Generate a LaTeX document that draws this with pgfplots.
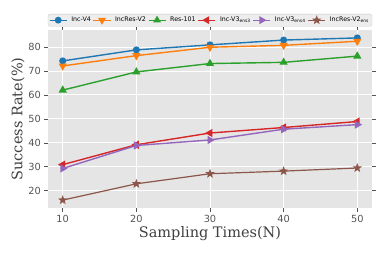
\documentclass[border=0pt]{standalone}
\usepackage{fontspec}
\setmainfont{DejaVu Serif}
\setsansfont{DejaVu Sans}
\usepackage{pgfplots}
\pgfplotsset{compat=1.18}
\usetikzlibrary{plotmarks}
\definecolor{c1}{HTML}{1F77B4}
\definecolor{c2}{HTML}{FF7F0E}
\definecolor{c3}{HTML}{2CA02C}
\definecolor{c4}{HTML}{D62728}
\definecolor{c5}{HTML}{9467BD}
\definecolor{c6}{HTML}{8C564B}
\definecolor{bg}{HTML}{E5E5E5}
\definecolor{tk}{HTML}{555555}
\pgfdeclareplotmark{fstar}{%
  \pgfpathmoveto{\pgfpointpolar{90}{\pgfplotmarksize}}%
  \pgfpathlineto{\pgfpointpolar{126}{0.42\pgfplotmarksize}}%
  \pgfpathlineto{\pgfpointpolar{162}{\pgfplotmarksize}}%
  \pgfpathlineto{\pgfpointpolar{198}{0.42\pgfplotmarksize}}%
  \pgfpathlineto{\pgfpointpolar{234}{\pgfplotmarksize}}%
  \pgfpathlineto{\pgfpointpolar{270}{0.42\pgfplotmarksize}}%
  \pgfpathlineto{\pgfpointpolar{306}{\pgfplotmarksize}}%
  \pgfpathlineto{\pgfpointpolar{342}{0.42\pgfplotmarksize}}%
  \pgfpathlineto{\pgfpointpolar{18}{\pgfplotmarksize}}%
  \pgfpathlineto{\pgfpointpolar{54}{0.42\pgfplotmarksize}}%
  \pgfpathclose
  \pgfusepathqfillstroke}
\begin{document}
\begin{tikzpicture}
\useasboundingbox (-48pt,-47pt) rectangle (334pt,208pt);
\begin{axis}[
  width=324pt, height=178pt, scale only axis,
  xmin=8, xmax=52, ymin=12.8, ymax=87.1,
  xtick={10,20,30,40,50}, ytick={20,30,40,50,60,70,80},
  axis background/.style={fill=bg},
  grid=major, major grid style={white, line width=0.9pt},
  axis line style={draw=none},
  tick align=outside, major tick length=3.5pt,
  tick style={tk, line width=0.6pt},
  /pgf/number format/assume math mode=true,
  tick label style={font=\sffamily\fontsize{9.8}{10}\selectfont, color=tk},
  xlabel={Sampling Times(N)}, ylabel={Success Rate(\%)},
  label style={font=\fontsize{14.5}{14.5}\selectfont, color=black!75},
  xlabel style={yshift=3pt},
  ylabel style={yshift=-3pt},
  every axis plot/.append style={line width=1.4pt},
  legend columns=6,
  legend style={at={(0.5,1.02)}, anchor=south, draw=black!22, fill=bg!70,
    rounded corners=1.5pt, inner sep=1pt,
    font=\sffamily\fontsize{6.3}{7}\selectfont,
    /tikz/every odd column/.append style={column sep=2pt}},
  legend image post style={line width=1.2pt},
]
\addplot[c1, mark=*, mark size=2.8pt] coordinates {(10,74.2) (20,78.8) (30,80.9) (40,82.9) (50,83.8)};
\addlegendentry{Inc-V4}
\addplot[c2, mark=triangle*, mark size=3.4pt, mark options={rotate=180}] coordinates {(10,72.1) (20,76.4) (30,79.9) (40,80.7) (50,82.4)};
\addlegendentry{IncRes-V2}
\addplot[c3, mark=triangle*, mark size=3.4pt] coordinates {(10,62.0) (20,69.6) (30,73.1) (40,73.6) (50,76.2)};
\addlegendentry{Res-101}
\addplot[c4, mark=triangle*, mark size=3.4pt, mark options={rotate=90}] coordinates {(10,30.9) (20,39.2) (30,44.1) (40,46.4) (50,48.9)};
\addlegendentry{Inc-V3\textsubscript{ens3}}
\addplot[c5, mark=triangle*, mark size=3.4pt, mark options={rotate=-90}] coordinates {(10,29.3) (20,38.9) (30,41.2) (40,45.7) (50,47.6)};
\addlegendentry{Inc-V3\textsubscript{ens4}}
\addplot[c6, mark=fstar, mark size=3.2pt, line width=1.2pt] coordinates {(10,16.1) (20,22.9) (30,27.1) (40,28.2) (50,29.5)};
\addlegendentry{IncRes-V2\textsubscript{ens}}
\end{axis}
\end{tikzpicture}
\end{document}
